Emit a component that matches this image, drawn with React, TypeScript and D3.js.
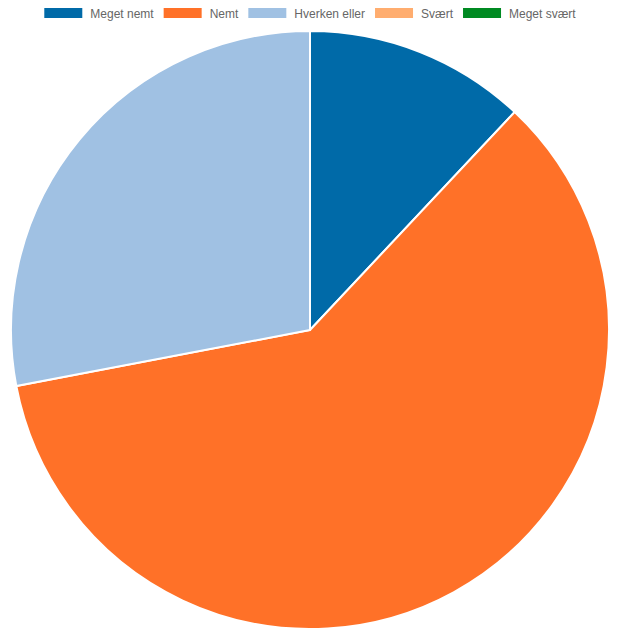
import React, { useEffect, useRef } from 'react';
import * as d3 from 'd3';

// 答题分布
const categories = ['Meget nemt', 'Nemt', 'Hverken eller', 'Svært', 'Meget svært'];
const values = [3, 15, 7, 0, 0];
const colors = ['#006aa8', '#ff7128', '#a0c1e3', '#ffad6f', '#008a22'];

const W = 621, H = 642;

const App: React.FC = () => {
  const svgRef = useRef<SVGSVGElement>(null);

  useEffect(() => {
    if (!svgRef.current) return;
    const svg = d3.select(svgRef.current);
    svg.selectAll('*').remove();

    const cx = 310, cy = 330, r = 299;
    const pie = d3.pie<number>().value(d => d).sort(null);
    const arc = d3.arc<d3.PieArcDatum<number>>().innerRadius(0).outerRadius(r);

    svg.append('g')
      .attr('transform', `translate(${cx},${cy})`)
      .selectAll('path')
      .data(pie(values).filter(d => d.data > 0))
      .enter()
      .append('path')
      .attr('d', arc)
      .attr('fill', d => colors[d.index])
      .attr('stroke', '#fff')
      .attr('stroke-width', 2);

    // 图例：先量字宽再居中
    const font = '12px "Liberation Sans", Arial, Helvetica, sans-serif';
    const ctx = document.createElement('canvas').getContext('2d')!;
    ctx.font = font;
    const boxW = 38, boxH = 10, txtGap = 8, itemGap = 10;
    const widths = categories.map(c => boxW + txtGap + ctx.measureText(c).width);
    const total = d3.sum(widths) + itemGap * (categories.length - 1);
    let x = cx - total / 2;
    const legend = svg.append('g');
    categories.forEach((c, i) => {
      legend.append('rect')
        .attr('x', x).attr('y', 8).attr('width', boxW).attr('height', boxH)
        .attr('fill', colors[i]);
      legend.append('text')
        .attr('x', x + boxW + txtGap).attr('y', 17.5)
        .style('font', font).attr('fill', '#666')
        .text(c);
      x += widths[i] + itemGap;
    });
  }, []);

  return (
    <div style={{ width: W, height: H, margin: -8 }}>
      <svg ref={svgRef} width={W} height={H} style={{ display: 'block' }} />
    </div>
  );
};

export default App;
